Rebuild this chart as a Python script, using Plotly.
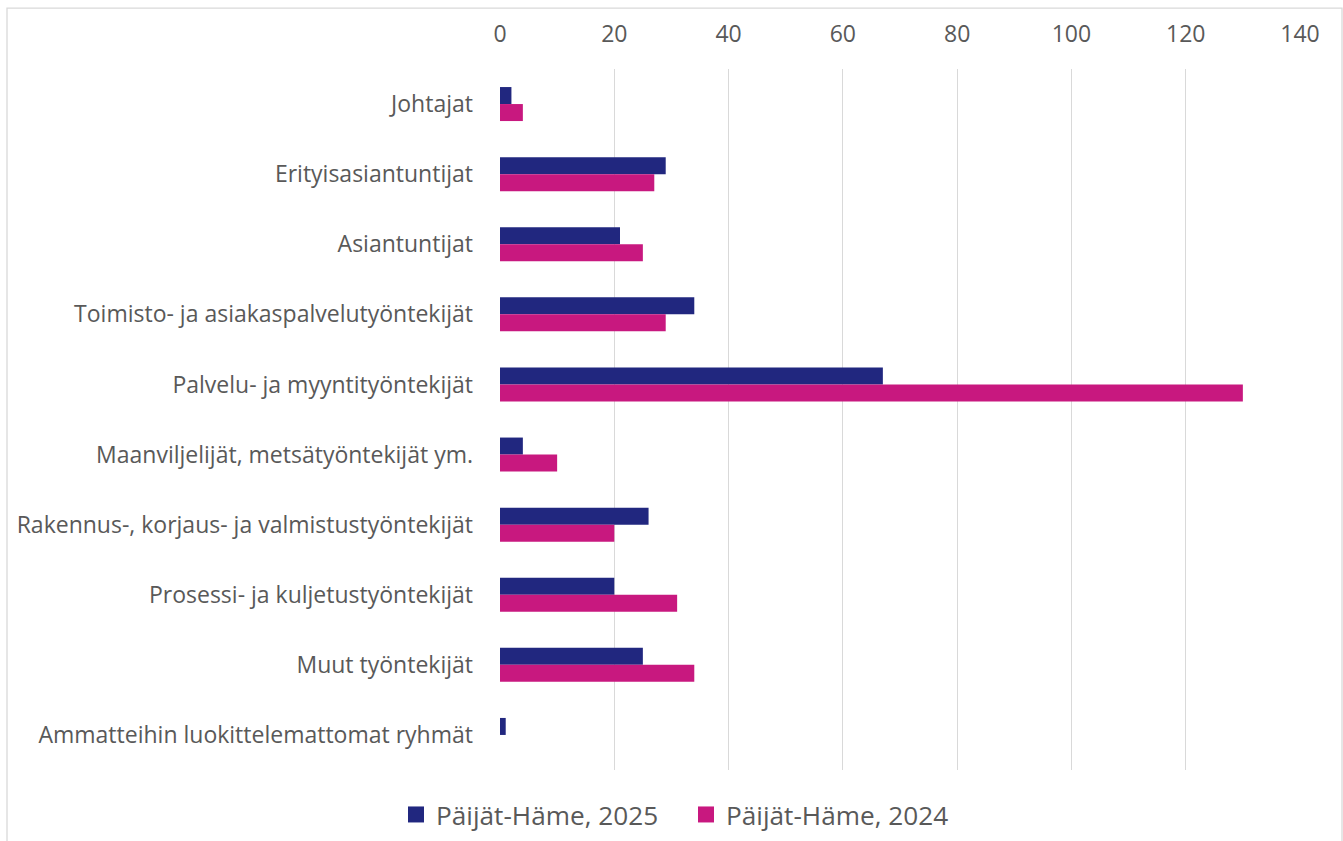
import plotly.graph_objects as go

categories = [
    "Johtajat",
    "Erityisasiantuntijat",
    "Asiantuntijat",
    "Toimisto- ja asiakaspalvelutyöntekijät",
    "Palvelu- ja myyntityöntekijät",
    "Maanviljelijät, metsätyöntekijät ym.",
    "Rakennus-, korjaus- ja valmistustyöntekijät",
    "Prosessi- ja kuljetustyöntekijät",
    "Muut työntekijät",
    "Ammatteihin luokittelemattomat ryhmät",
]
values_2025 = [2, 29, 21, 34, 67, 4, 26, 20, 25, 1]
values_2024 = [4, 27, 25, 29, 130, 10, 20, 31, 34, 0]
series_names = ["Päijät-Häme, 2025", "Päijät-Häme, 2024"]
x_ticks = [0, 20, 40, 60, 80, 100, 120, 140]

BLUE = "#21277F"
PINK = "#C8187F"
TEXT = "#595959"
FONT = "Open Sans"

fig = go.Figure()
fig.add_trace(go.Bar(y=categories, x=values_2025, name=series_names[0], orientation="h",
                     marker=dict(color=BLUE, line=dict(width=0)), showlegend=False))
fig.add_trace(go.Bar(y=categories, x=values_2024, name=series_names[1], orientation="h",
                     marker=dict(color=PINK, line=dict(width=0)), showlegend=False))
# legend entries with larger square swatches
for nm, col in zip(series_names, [BLUE, PINK]):
    fig.add_trace(go.Scatter(x=[None], y=[None], mode="markers", name=nm,
                             marker=dict(symbol="square", size=16, color=col),
                             hoverinfo="skip"))

# the capture is squeezed vertically (~851 -> 841), so lay out in a slightly taller frame
S = 851 / 841
W, H = 1343, 851
L, R = 500, 43
T = 68 * S
B = H - 770 * S
pw = W - L - R
ph = H - T - B

def px_x(px):
    return (px - L) / pw

def px_y(py):
    return 1 - (py * S - T) / ph

border_path = (f"M {px_x(7)} {px_y(841)} L {px_x(7)} {px_y(7)} "
               f"L {px_x(1342)} {px_y(7)} L {px_x(1342)} {px_y(841)}")

fig.update_layout(
    width=W, height=H,
    margin=dict(l=L, r=R, t=T, b=B),
    paper_bgcolor="white", plot_bgcolor="white",
    barmode="group", bargap=0.515, bargroupgap=0,
    font=dict(family=FONT, size=23, color=TEXT),
    showlegend=True,
    legend=dict(orientation="h", x=px_x(686), xanchor="center", y=px_y(815), yanchor="middle",
                font=dict(family=FONT, size=26.2, color=TEXT), traceorder="normal",
                itemwidth=30, entrywidthmode="pixels", entrywidth=245),
    xaxis=dict(side="top", range=[0, 140], tickvals=x_ticks, showgrid=True,
               gridcolor="#D9D9D9", gridwidth=1.3, zeroline=False, showline=False,
               ticklabelstandoff=21, tickfont=dict(family=FONT, size=23, color=TEXT),
               fixedrange=True),
    yaxis=dict(categoryorder="array", categoryarray=categories, autorange="reversed",
               showgrid=False, zeroline=False, showline=False,
               ticklabelstandoff=26, tickfont=dict(family=FONT, size=23, color=TEXT)),
    shapes=[dict(type="path", xref="paper", yref="paper", path=border_path,
                 line=dict(color="#D9D9D9", width=1.3), layer="below")],
)

post = (
    "document.documentElement.style.overflow='hidden';"
    "document.body.style.margin='0';"
    "document.body.style.overflow='hidden';"
    "var d=document.getElementById('{plot_id}');"
    "d.style.position='fixed';d.style.left='0px';d.style.top='0px';"
)
fig.write_html("out.html", config={"displayModeBar": False}, post_script=post)
